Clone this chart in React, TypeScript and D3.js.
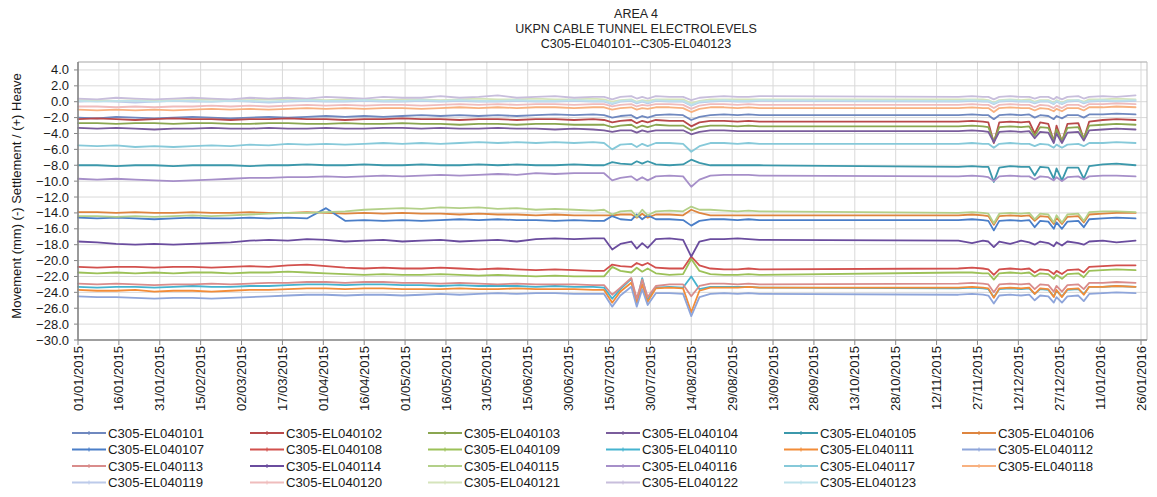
import React from "react";
import * as d3 from "d3";

const TITLE_LINES = ["AREA 4", "UKPN CABLE TUNNEL ELECTROLEVELS", "C305-EL040101--C305-EL040123"];
const Y_AXIS_TITLE = "Movement (mm) (-) Settlement / (+) Heave";
const Y_TICKS = [4, 2, 0, -2, -4, -6, -8, -10, -12, -14, -16, -18, -20, -22, -24, -26, -28, -30];
const Y_DOMAIN = [-30, 5];
const X_DOMAIN = ["2015-01-01", "2016-01-26"];
const X_TICKS = [
  "2015-01-01", "2015-01-16", "2015-01-31", "2015-02-15", "2015-03-02", "2015-03-17", "2015-04-01",
  "2015-04-16", "2015-05-01", "2015-05-16", "2015-05-31", "2015-06-15", "2015-06-30", "2015-07-15",
  "2015-07-30", "2015-08-14", "2015-08-29", "2015-09-13", "2015-09-28", "2015-10-13", "2015-10-28",
  "2015-11-12", "2015-11-27", "2015-12-12", "2015-12-27", "2016-01-11", "2016-01-26",
];

const DATES = [
  "2015-01-01", "2015-01-08", "2015-01-15", "2015-01-22", "2015-01-29", "2015-02-05", "2015-02-12",
  "2015-02-19", "2015-02-26", "2015-03-05", "2015-03-12", "2015-03-19", "2015-03-26", "2015-04-02",
  "2015-04-09", "2015-04-16", "2015-04-23", "2015-04-30", "2015-05-07", "2015-05-14", "2015-05-21",
  "2015-05-28", "2015-06-04", "2015-06-11", "2015-06-18", "2015-06-25", "2015-07-02", "2015-07-09",
  "2015-07-13", "2015-07-16", "2015-07-19", "2015-07-23", "2015-07-25", "2015-07-27", "2015-07-29",
  "2015-08-01", "2015-08-06", "2015-08-11", "2015-08-14", "2015-08-17", "2015-08-21", "2015-08-26",
  "2015-08-31", "2015-09-04", "2015-09-08",
  "2015-11-20", "2015-11-25", "2015-11-29", "2015-12-01", "2015-12-03", "2015-12-05", "2015-12-09",
  "2015-12-13", "2015-12-16", "2015-12-18", "2015-12-20", "2015-12-23", "2015-12-25", "2015-12-26",
  "2015-12-28", "2015-12-30", "2016-01-03", "2016-01-05", "2016-01-07", "2016-01-12", "2016-01-17",
  "2016-01-24",
];

const S101 = [-2.0,-2.1,-1.9,-2.0,-2.1,-2.0,-1.9,-2.0,-2.1,-2.0,-1.9,-2.0,-1.9,-1.8,-1.9,-1.8,-1.9,-1.8,-1.7,-1.8,-1.7,-1.8,-1.7,-1.8,-1.7,-1.6,-1.7,-1.6,
  -1.7,-2.0,-1.8,-1.7,-2.1,-1.8,-2.0,-1.7,-1.6,-1.7,-2.3,-1.9,-1.7,-1.6,-1.7,-1.6,-1.7,
  -1.7,-1.6,-1.7,-1.7,-2.2,-1.7,-1.6,-1.7,-1.6,-2.0,-1.7,-1.8,-2.2,-1.8,-2.1,-1.7,-1.7,-2.0,-1.6,-1.6,-1.5,-1.6];
const S102 = [-2.2,-2.1,-2.2,-2.3,-2.2,-2.1,-2.2,-2.2,-2.3,-2.2,-2.2,-2.1,-2.2,-2.2,-2.3,-2.2,-2.2,-2.1,-2.2,-2.2,-2.3,-2.2,-2.2,-2.3,-2.2,-2.2,-2.3,-2.2,
  -2.3,-2.6,-2.4,-2.3,-2.7,-2.4,-2.6,-2.3,-2.4,-2.4,-3.1,-2.6,-2.4,-2.4,-2.5,-2.4,-2.5,
  -2.5,-2.4,-2.5,-2.6,-5.2,-2.6,-2.5,-2.6,-2.5,-4.0,-2.6,-2.8,-5.0,-3.0,-5.0,-2.8,-2.7,-4.7,-2.5,-2.3,-2.2,-2.3];
const S103 = [-2.7,-2.7,-2.8,-2.7,-2.7,-2.8,-2.7,-2.7,-2.8,-2.8,-2.7,-2.7,-2.8,-2.8,-2.7,-2.8,-2.8,-2.7,-2.8,-2.8,-2.9,-2.8,-2.8,-2.9,-2.8,-2.8,-2.9,-2.9,
  -2.9,-3.2,-3.0,-2.9,-3.3,-3.0,-3.2,-2.9,-3.0,-3.0,-3.6,-3.2,-3.0,-3.0,-3.1,-3.0,-3.1,
  -3.1,-3.0,-3.1,-3.2,-5.0,-3.2,-3.1,-3.2,-3.1,-4.3,-3.2,-3.3,-4.9,-3.5,-4.9,-3.3,-3.2,-4.6,-3.0,-2.9,-2.8,-2.9];
const S104 = [-3.3,-3.4,-3.3,-3.4,-3.5,-3.4,-3.4,-3.3,-3.4,-3.4,-3.3,-3.4,-3.4,-3.3,-3.4,-3.4,-3.3,-3.3,-3.4,-3.3,-3.4,-3.4,-3.3,-3.4,-3.4,-3.5,-3.4,-3.5,
  -3.6,-3.8,-3.6,-3.6,-3.9,-3.6,-3.8,-3.6,-3.6,-3.6,-4.1,-3.8,-3.6,-3.6,-3.7,-3.7,-3.7,
  -3.7,-3.6,-3.7,-3.8,-5.1,-3.8,-3.7,-3.8,-3.7,-4.6,-3.8,-3.9,-5.2,-4.0,-5.2,-3.9,-3.8,-4.9,-3.6,-3.5,-3.4,-3.5];
const S105 = [-8.0,-8.0,-8.1,-8.0,-8.0,-8.1,-8.0,-8.0,-8.0,-8.1,-8.0,-8.0,-7.9,-8.0,-8.0,-7.9,-8.0,-8.0,-7.9,-8.0,-8.0,-7.9,-8.0,-7.9,-8.0,-8.0,-7.9,-8.0,
  -8.0,-7.6,-7.8,-7.9,-7.5,-7.8,-7.5,-7.9,-8.0,-7.9,-7.3,-7.7,-8.0,-8.0,-8.0,-8.0,-8.0,
  -8.2,-8.1,-8.2,-8.2,-10.1,-8.3,-8.1,-8.2,-8.2,-9.3,-8.2,-8.3,-9.7,-8.4,-9.9,-8.3,-8.3,-9.7,-8.1,-7.9,-7.8,-8.0];
const S106 = [-13.9,-13.9,-14.0,-13.9,-14.0,-14.0,-13.9,-14.0,-14.0,-13.9,-14.0,-14.0,-13.9,-14.0,-14.1,-14.0,-14.1,-14.0,-14.1,-14.1,-14.2,-14.1,-14.2,-14.2,-14.3,-14.2,-14.3,-14.3,
  -14.3,-14.3,-14.2,-14.2,-14.6,-14.1,-14.6,-14.2,-14.2,-14.3,-13.6,-14.0,-14.3,-14.3,-14.3,-14.3,-14.3,
  -14.3,-14.2,-14.3,-14.4,-15.5,-14.4,-14.3,-14.4,-14.3,-15.0,-14.4,-14.5,-15.4,-14.6,-15.4,-14.5,-14.4,-15.2,-14.2,-14.1,-14.0,-14.0];
const S107 = [-14.6,-14.7,-14.6,-14.7,-14.8,-14.7,-14.6,-14.7,-14.7,-14.6,-14.7,-14.6,-14.7,-13.4,-15.0,-14.9,-15.0,-14.9,-15.0,-14.9,-14.8,-14.9,-14.8,-14.9,-14.9,-15.0,-14.9,-15.0,
  -15.0,-14.4,-14.8,-14.9,-14.2,-14.8,-14.3,-14.8,-14.8,-14.9,-15.6,-15.0,-14.8,-14.8,-14.9,-14.8,-14.9,
  -14.9,-14.8,-14.9,-15.0,-16.2,-15.0,-14.9,-15.0,-14.9,-15.8,-15.0,-15.1,-16.0,-15.2,-16.0,-15.1,-15.0,-15.8,-14.8,-14.7,-14.6,-14.7];
const S108 = [-20.8,-20.9,-20.8,-20.8,-20.9,-20.8,-20.8,-20.9,-20.8,-20.7,-20.8,-20.6,-20.5,-20.7,-20.9,-21.0,-20.9,-21.0,-21.0,-20.9,-21.0,-21.1,-21.0,-21.1,-21.2,-21.1,-21.2,-21.3,
  -21.3,-20.5,-20.7,-20.8,-20.3,-20.6,-20.3,-20.9,-21.0,-21.0,-19.5,-20.6,-21.0,-21.1,-21.1,-21.0,-21.1,
  -21.0,-20.9,-21.0,-21.1,-21.8,-21.1,-21.0,-21.1,-21.0,-21.5,-21.1,-21.2,-21.7,-21.3,-21.7,-21.2,-21.1,-21.5,-20.8,-20.7,-20.6,-20.6];
const S109 = [-21.5,-21.6,-21.5,-21.6,-21.5,-21.6,-21.5,-21.5,-21.6,-21.5,-21.5,-21.4,-21.5,-21.6,-21.7,-21.8,-21.7,-21.8,-21.8,-21.7,-21.8,-21.9,-21.8,-21.9,-22.0,-21.9,-22.0,-22.0,
  -22.0,-20.8,-21.3,-21.5,-20.9,-21.4,-21.0,-21.6,-21.8,-21.7,-19.8,-21.3,-21.7,-21.8,-21.8,-21.7,-21.8,
  -21.5,-21.5,-21.6,-21.6,-22.4,-21.6,-21.5,-21.6,-21.5,-22.0,-21.6,-21.7,-22.3,-21.8,-22.3,-21.7,-21.6,-22.1,-21.3,-21.2,-21.1,-21.2];
const S110 = [-23.3,-23.4,-23.3,-23.3,-23.4,-23.3,-23.2,-23.3,-23.3,-23.2,-23.2,-23.1,-23.0,-23.0,-23.1,-23.0,-23.0,-23.1,-23.1,-23.2,-23.1,-23.2,-23.2,-23.2,-23.3,-23.2,-23.3,-23.3,
  -23.4,-24.8,-23.6,-22.3,-25.2,-22.2,-24.9,-23.4,-23.3,-23.4,-22.0,-23.6,-23.3,-23.3,-23.3,-23.3,-23.4,
  -23.5,-23.4,-23.5,-23.6,-24.6,-23.6,-23.5,-23.6,-23.5,-24.2,-23.6,-23.7,-24.5,-23.8,-24.5,-23.7,-23.6,-24.2,-23.3,-23.3,-23.2,-23.3];
const S111 = [-23.7,-23.8,-23.8,-23.7,-23.9,-23.8,-23.8,-23.9,-23.8,-23.7,-23.7,-23.6,-23.5,-23.5,-23.6,-23.5,-23.5,-23.6,-23.6,-23.6,-23.5,-23.6,-23.6,-23.5,-23.6,-23.6,-23.6,-23.7,
  -23.7,-25.3,-23.9,-22.8,-25.4,-23.0,-25.2,-23.5,-23.4,-23.5,-26.5,-23.8,-23.4,-23.4,-23.4,-23.3,-23.4,
  -23.4,-23.3,-23.4,-23.5,-24.7,-23.5,-23.4,-23.5,-23.4,-24.2,-23.5,-23.6,-24.6,-23.7,-24.6,-23.6,-23.5,-24.3,-23.3,-23.3,-23.2,-23.3];
const S112 = [-24.5,-24.6,-24.6,-24.7,-24.8,-24.7,-24.7,-24.8,-24.7,-24.6,-24.5,-24.4,-24.3,-24.3,-24.4,-24.3,-24.3,-24.4,-24.3,-24.2,-24.3,-24.2,-24.1,-24.2,-24.1,-24.1,-24.2,-24.2,
  -24.2,-25.8,-24.4,-23.3,-25.8,-23.6,-25.6,-24.1,-24.1,-24.2,-27.0,-24.6,-24.2,-24.1,-24.2,-24.1,-24.2,
  -24.3,-24.2,-24.3,-24.4,-25.4,-24.4,-24.3,-24.4,-24.3,-25.0,-24.4,-24.5,-25.3,-24.6,-25.3,-24.5,-24.4,-25.1,-24.2,-24.1,-24.0,-24.1];
const S113 = [-22.9,-23.0,-22.9,-23.0,-23.1,-23.0,-23.0,-22.9,-23.0,-22.9,-22.8,-22.8,-22.7,-22.7,-22.8,-22.7,-22.7,-22.8,-22.8,-22.9,-22.8,-22.9,-23.0,-22.9,-23.0,-23.0,-23.0,-23.1,
  -23.1,-24.3,-23.4,-22.2,-24.8,-22.4,-24.6,-23.2,-23.0,-23.0,-24.5,-23.2,-22.9,-22.9,-23.0,-22.9,-23.0,
  -22.9,-22.8,-22.9,-23.0,-24.0,-23.0,-22.9,-23.0,-22.9,-23.6,-23.0,-23.1,-23.9,-23.2,-23.9,-23.1,-23.0,-23.6,-22.8,-22.8,-22.7,-22.8];
const S114 = [-17.6,-17.7,-17.9,-18.0,-17.9,-18.0,-17.9,-17.8,-17.7,-17.5,-17.4,-17.5,-17.3,-17.4,-17.6,-17.5,-17.4,-17.6,-17.5,-17.4,-17.6,-17.5,-17.4,-17.6,-17.3,-17.2,-17.3,-17.2,
  -17.2,-18.6,-17.9,-17.6,-18.5,-17.8,-18.4,-17.3,-17.2,-17.4,-19.5,-17.6,-17.3,-17.3,-17.2,-17.3,-17.4,
  -17.5,-17.8,-17.5,-17.6,-18.3,-17.6,-17.9,-17.5,-17.7,-18.0,-17.6,-17.8,-18.2,-17.7,-18.1,-17.6,-17.8,-18.0,-17.6,-17.5,-17.7,-17.5];
const S115 = [-14.4,-14.4,-14.5,-14.4,-14.5,-14.4,-14.3,-14.4,-14.3,-14.2,-14.1,-14.0,-14.0,-13.9,-13.8,-13.6,-13.5,-13.4,-13.5,-13.3,-13.4,-13.3,-13.5,-13.4,-13.6,-13.5,-13.6,-13.7,
  -13.6,-14.2,-13.8,-13.7,-14.5,-13.6,-14.3,-13.8,-13.7,-13.8,-13.2,-13.6,-13.6,-13.7,-13.8,-13.7,-13.8,
  -14.0,-13.9,-14.0,-14.1,-15.3,-14.1,-14.0,-14.1,-14.0,-14.8,-14.1,-14.2,-15.2,-14.3,-15.2,-14.2,-14.1,-15.0,-13.9,-13.8,-13.8,-13.9];
const S116 = [-9.7,-9.8,-9.7,-9.8,-9.9,-10.0,-9.9,-9.8,-9.7,-9.6,-9.6,-9.5,-9.5,-9.4,-9.5,-9.4,-9.3,-9.4,-9.3,-9.2,-9.3,-9.2,-9.1,-9.2,-9.0,-9.1,-9.0,-9.0,
  -9.0,-9.9,-9.6,-9.4,-9.9,-9.5,-9.9,-9.4,-9.3,-9.4,-10.7,-9.8,-9.3,-9.2,-9.2,-9.2,-9.3,
  -9.4,-9.3,-9.4,-9.5,-10.0,-9.4,-9.3,-9.4,-9.4,-9.8,-9.4,-9.5,-9.9,-9.5,-10.0,-9.5,-9.4,-9.8,-9.4,-9.3,-9.3,-9.4];
const S117 = [-5.5,-5.6,-5.5,-5.7,-5.6,-5.7,-5.6,-5.5,-5.6,-5.4,-5.5,-5.3,-5.4,-5.3,-5.4,-5.3,-5.2,-5.3,-5.2,-5.3,-5.2,-5.1,-5.2,-5.1,-5.2,-5.1,-5.2,-5.1,
  -5.2,-6.0,-5.4,-5.3,-5.7,-5.3,-5.6,-5.2,-5.2,-5.3,-6.3,-5.6,-5.2,-5.2,-5.3,-5.2,-5.3,
  -5.3,-5.2,-5.3,-5.3,-5.8,-5.3,-5.2,-5.3,-5.3,-5.6,-5.3,-5.4,-5.8,-5.4,-5.8,-5.4,-5.3,-5.6,-5.2,-5.2,-5.1,-5.2];
const S118 = [-1.0,-1.1,-1.0,-1.1,-1.0,-1.1,-1.0,-0.9,-1.0,-0.9,-1.0,-0.9,-0.8,-0.9,-0.8,-0.9,-0.8,-0.8,-0.9,-0.8,-0.7,-0.8,-0.7,-0.8,-0.7,-0.7,-0.8,-0.7,
  -0.7,-1.0,-0.8,-0.7,-1.0,-0.8,-0.9,-0.7,-0.7,-0.8,-1.3,-0.9,-0.7,-0.7,-0.8,-0.7,-0.8,
  -0.8,-0.7,-0.8,-0.8,-1.3,-0.8,-0.7,-0.8,-0.8,-1.1,-0.8,-0.9,-1.2,-0.9,-1.2,-0.8,-0.8,-1.1,-0.7,-0.7,-0.6,-0.7];
const S119 = [0.0,0.1,0.0,-0.1,0.0,0.1,0.0,0.0,0.1,0.0,-0.1,0.0,0.1,0.0,0.0,0.1,0.0,0.0,0.1,0.0,0.1,0.0,0.0,0.1,0.0,0.0,0.1,0.0,
  0.0,-0.3,0.0,0.1,-0.2,0.0,-0.2,0.1,0.0,0.0,-0.5,-0.1,0.0,0.1,0.0,0.0,0.1,
  0.0,0.1,0.0,0.0,-0.3,0.0,0.1,0.0,0.0,-0.2,0.0,0.0,-0.3,0.0,-0.3,0.0,0.1,-0.2,0.0,0.1,0.0,0.1];
const S120 = [-0.6,-0.6,-0.7,-0.6,-0.7,-0.6,-0.6,-0.5,-0.6,-0.5,-0.6,-0.5,-0.4,-0.5,-0.4,-0.5,-0.4,-0.4,-0.5,-0.4,-0.3,-0.4,-0.3,-0.4,-0.3,-0.3,-0.4,-0.3,
  -0.3,-0.6,-0.4,-0.3,-0.6,-0.4,-0.5,-0.3,-0.3,-0.4,-0.9,-0.5,-0.3,-0.3,-0.4,-0.3,-0.4,
  -0.4,-0.3,-0.4,-0.4,-0.8,-0.4,-0.3,-0.4,-0.4,-0.7,-0.4,-0.5,-0.8,-0.5,-0.8,-0.4,-0.4,-0.7,-0.3,-0.3,-0.2,-0.3];
const S121 = [0.2,0.2,0.1,0.2,0.1,0.2,0.2,0.3,0.2,0.2,0.3,0.2,0.3,0.2,0.3,0.3,0.2,0.3,0.3,0.2,0.3,0.4,0.3,0.3,0.4,0.3,0.3,0.4,
  0.3,0.0,0.2,0.3,0.0,0.2,0.1,0.3,0.3,0.3,-0.2,0.1,0.3,0.3,0.3,0.3,0.3,
  0.3,0.3,0.3,0.2,-0.1,0.2,0.3,0.2,0.3,0.0,0.2,0.2,-0.1,0.2,-0.1,0.2,0.2,0.0,0.3,0.3,0.4,0.3];
const S122 = [0.4,0.3,0.5,0.4,0.3,0.4,0.5,0.4,0.3,0.5,0.4,0.5,0.4,0.6,0.5,0.4,0.6,0.5,0.5,0.7,0.5,0.6,0.8,0.5,0.6,0.7,0.5,0.6,
  0.6,0.3,0.6,0.7,0.4,0.6,0.4,0.7,0.6,0.6,0.2,0.5,0.6,0.7,0.6,0.6,0.7,
  0.6,0.7,0.6,0.6,0.3,0.6,0.7,0.6,0.6,0.4,0.6,0.6,0.3,0.6,0.3,0.6,0.7,0.4,0.6,0.7,0.6,0.8];
const S123 = [0.1,0.0,0.1,0.1,0.0,0.1,0.1,0.0,0.1,0.1,0.0,0.1,0.2,0.1,0.1,0.2,0.1,0.1,0.2,0.1,0.2,0.1,0.1,0.2,0.1,0.1,0.2,0.1,
  0.1,-0.2,0.1,0.2,-0.1,0.1,-0.1,0.2,0.1,0.1,-0.4,0.0,0.1,0.2,0.1,0.1,0.2,
  0.1,0.2,0.1,0.1,-0.2,0.1,0.2,0.1,0.1,-0.1,0.1,0.1,-0.2,0.1,-0.2,0.1,0.2,-0.1,0.1,0.2,0.1,0.2];

const SERIES_NAMES = [
  "C305-EL040101", "C305-EL040102", "C305-EL040103", "C305-EL040104", "C305-EL040105", "C305-EL040106",
  "C305-EL040107", "C305-EL040108", "C305-EL040109", "C305-EL040110", "C305-EL040111", "C305-EL040112",
  "C305-EL040113", "C305-EL040114", "C305-EL040115", "C305-EL040116", "C305-EL040117", "C305-EL040118",
  "C305-EL040119", "C305-EL040120", "C305-EL040121", "C305-EL040122", "C305-EL040123",
];
const SERIES_VALUES = [
  S101, S102, S103, S104, S105, S106, S107, S108, S109, S110, S111, S112,
  S113, S114, S115, S116, S117, S118, S119, S120, S121, S122, S123,
];
const COLORS = [
  "#6f88bf", "#b8494a", "#8aa650", "#7a5c9c", "#3b98ab", "#de853f",
  "#4a7ec8", "#d2504d", "#9cc158", "#45b3cf", "#f28c38", "#8ea5da",
  "#d98c8b", "#6a4c9e", "#b3d089", "#a68fc9", "#86c9d9", "#f8b180",
  "#bccaea", "#efbcbc", "#d5e4bb", "#c8bedc", "#bde2eb",
];

const FONT = "'Liberation Sans', Arial, Helvetica, sans-serif";

export default function App() {
  const W = 1157;
  const H = 497;
  const parse = d3.timeParse("%Y-%m-%d");
  const fmt = d3.timeFormat("%d/%m/%Y");
  const dates = DATES.map((d) => parse(d) as Date);

  const x = d3.scaleTime().domain(X_DOMAIN.map((d) => parse(d) as Date)).range([78, 1141]);
  const y = d3.scaleLinear().domain(Y_DOMAIN).range([340, 62]);
  const plotLeft = 78;
  const plotRight = 1147;
  const plotTop = y(Y_DOMAIN[1]);
  const plotBottom = y(Y_DOMAIN[0]);

  const xTicks = X_TICKS.map((d) => parse(d) as Date);

  const line = d3
    .line<number>()
    .defined((d, i) => i < dates.length && d != null)
    .x((_, i) => x(dates[i]))
    .y((d) => y(d));

  const legendX0 = 108;
  const legendDX = 178;
  const legendY0 = 433;
  const legendDY = 16.5;

  return (
    <svg
      width={W}
      height={H}
      style={{ position: "absolute", left: 0, top: 0, background: "#fff" }}
      fontFamily={FONT}
    >
      <rect x={0} y={0} width={W} height={H} fill="#fff" />
      {TITLE_LINES.map((t, i) => (
        <text key={i} x={636} y={18 + i * 14.8} textAnchor="middle" fontSize={12.5} fill="#222">
          {t}
        </text>
      ))}

      <g>
        {Y_TICKS.map((v) => (
          <line key={"gy" + v} x1={plotLeft} x2={plotRight} y1={y(v)} y2={y(v)} stroke="#d9d9d9" strokeWidth={1} />
        ))}
        {xTicks.map((d, i) => (
          <line key={"gx" + i} x1={x(d)} x2={x(d)} y1={plotTop} y2={plotBottom} stroke="#d9d9d9" strokeWidth={1} />
        ))}
        <line x1={plotLeft} x2={plotRight} y1={plotTop} y2={plotTop} stroke="#a6a6a6" strokeWidth={1.2} />
        <line x1={plotRight} x2={plotRight} y1={plotTop} y2={plotBottom} stroke="#bfbfbf" strokeWidth={1} />
      </g>

      <g fill="none" strokeLinejoin="round" strokeLinecap="round">
        {SERIES_VALUES.map((vals, si) => (
          <path key={si} d={line(vals) || ""} stroke={COLORS[si]} strokeWidth={1.8} />
        ))}
      </g>

      <line x1={plotLeft} x2={plotLeft} y1={plotTop} y2={plotBottom} stroke="#868686" strokeWidth={1.6} />
      <line x1={plotLeft} x2={plotRight} y1={plotBottom} y2={plotBottom} stroke="#868686" strokeWidth={1.6} />
      {Y_TICKS.map((v) => (
        <g key={"yt" + v}>
          <line x1={plotLeft - 4} x2={plotLeft} y1={y(v)} y2={y(v)} stroke="#868686" />
          <text x={69} y={y(v)} dy="0.35em" textAnchor="end" fontSize={13} fill="#1a1a1a">
            {d3.format(".1f")(v)}
          </text>
        </g>
      ))}
      {xTicks.map((d, i) => (
        <g key={"xt" + i}>
          <line x1={x(d)} x2={x(d)} y1={plotBottom} y2={plotBottom + 5} stroke="#868686" />
          <text
            transform={`translate(${x(d)},${plotBottom + 6}) rotate(-90)`}
            dy="0.35em"
            textAnchor="end"
            fontSize={13}
            fill="#1a1a1a"
          >
            {fmt(d)}
          </text>
        </g>
      ))}

      <text
        transform={`translate(21,${(plotTop + plotBottom) / 2 - 5}) rotate(-90)`}
        textAnchor="middle"
        fontSize={13}
        fill="#1a1a1a"
      >
        {Y_AXIS_TITLE}
      </text>

      {SERIES_NAMES.map((name, i) => {
        const col = i % 6;
        const row = Math.floor(i / 6);
        const tx = legendX0 + col * legendDX;
        const ty = legendY0 + row * legendDY;
        return (
          <g key={"lg" + i}>
            <line x1={tx - 36} x2={tx - 2} y1={ty} y2={ty} stroke={COLORS[i]} strokeWidth={2} />
            <line x1={tx - 19} x2={tx - 19} y1={ty - 2} y2={ty + 2} stroke={COLORS[i]} strokeWidth={1} />
            <text x={tx} y={ty} dy="0.35em" fontSize={13.2} fill="#1a1a1a">
              {name}
            </text>
          </g>
        );
      })}
    </svg>
  );
}
